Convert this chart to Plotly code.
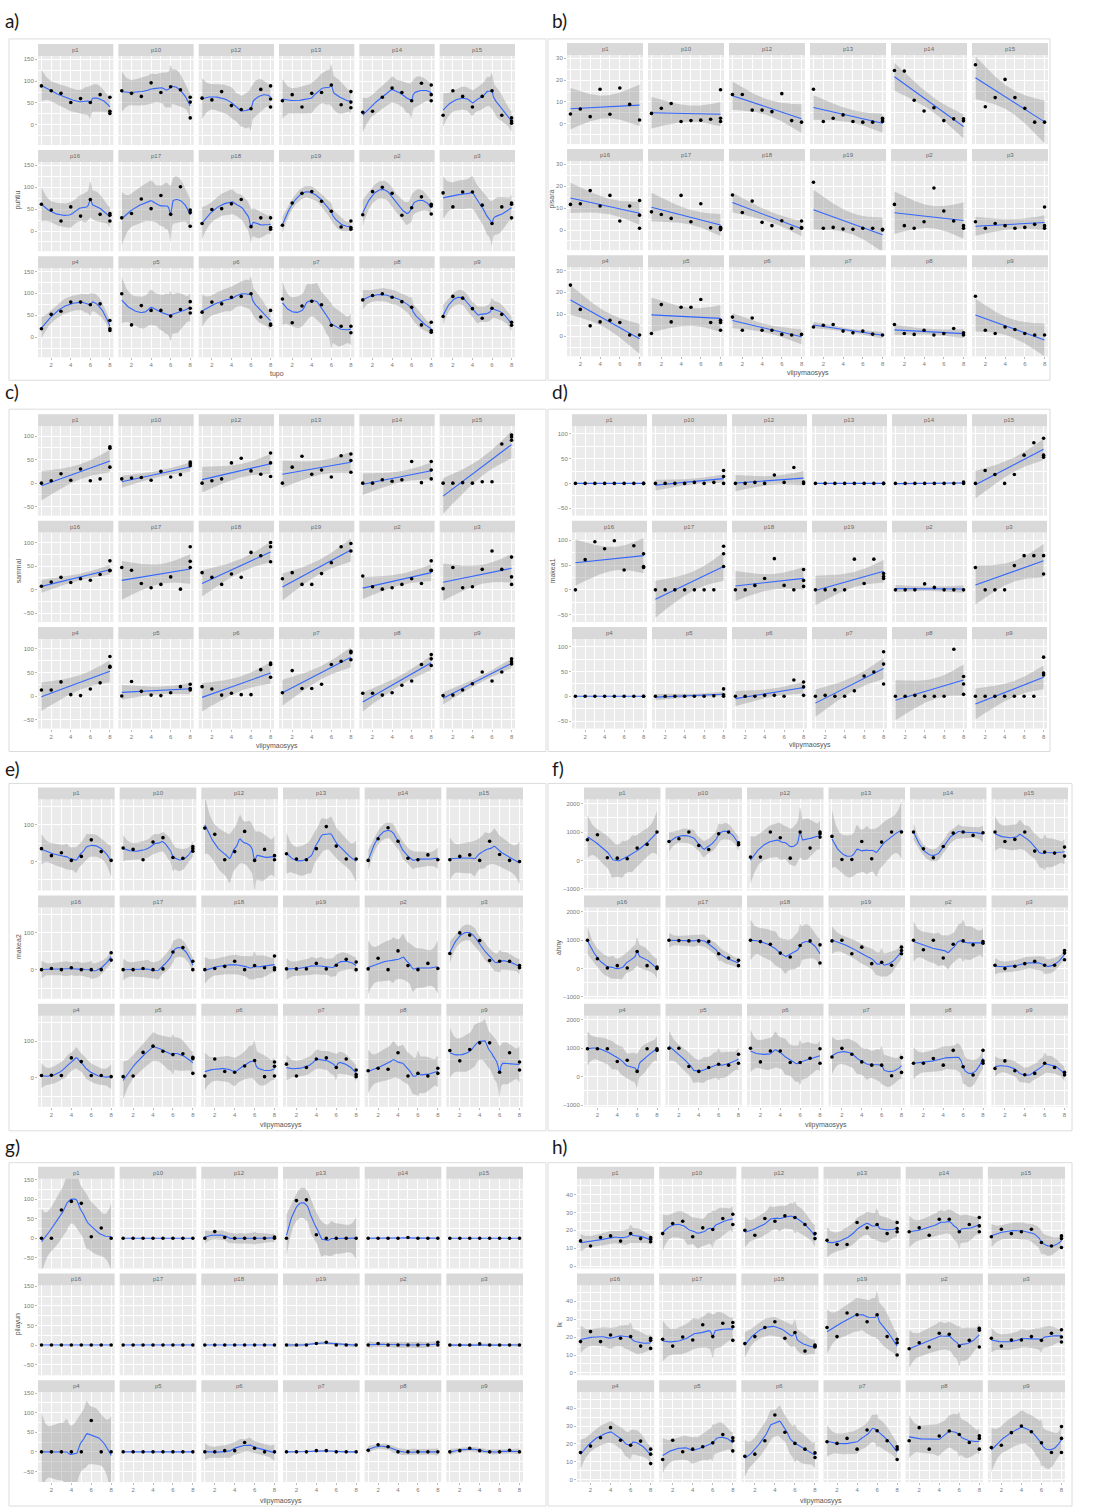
import math
import numpy as np
import plotly.graph_objects as go

W, H = 1096, 1508

facet_names = ["p1", "p10", "p12", "p13", "p14", "p15",
               "p16", "p17", "p18", "p19", "p2", "p3",
               "p4", "p5", "p6", "p7", "p8", "p9"]
days = [1, 2, 3, 4, 5, 6, 7]
last_day = 8
x_ticks = [2, 4, 6, 8]

# ---------------- a) puhtiu ----------------
a_d17 = [
    [89, 78, 72, 51, 60, 51, 69], [78, 72, 65, 96, 74, 87, 80], [61, 57, 76, 44, 35, 37, 81],
    [55, 69, 41, 72, 74, 91, 46], [29, 31, 63, 84, 74, 55, 95], [22, 78, 65, 41, 65, 78, 22],
    [61, 48, 23, 55, 34, 72, 38], [30, 40, 73, 51, 81, 38, 101], [17, 49, 51, 62, 72, 10, 30],
    [13, 64, 86, 90, 68, 45, 9], [37, 90, 100, 86, 36, 53, 78], [87, 55, 89, 89, 59, 17, 55],
    [19, 52, 59, 80, 80, 74, 76], [99, 28, 72, 61, 61, 48, 63], [57, 80, 76, 91, 93, 99, 46],
    [87, 33, 71, 82, 74, 27, 25], [85, 95, 99, 91, 81, 68, 28], [47, 93, 89, 65, 43, 66, 52],
]
a_d8 = [[63, 31, 26], [63, 52, 16], [89, 59, 41], [76, 52, 39], [91, 69, 55], [16, 9, 4],
        [40, 23, 36], [48, 42, 11], [30, 8, 4], [23, 8, 4], [61, 57, 39], [64, 61, 30],
        [38, 19, 15], [81, 66, 55], [61, 30, 27], [25, 10], [34, 15, 11], [34, 27]]

# ---------------- b) pisara ----------------
b_d17 = [
    [4.5, 6.8, 3.3, 15.8, 4.4, 16.4, 8.9], [4.8, 7.1, 9.3, 1.1, 1.5, 1.7, 2.1],
    [13.4, 13.4, 6.3, 6.3, 5.6, 13.8, 1.5], [15.8, 1.1, 2.6, 4.1, 1.1, 0.8, 0.8],
    [24.4, 24.1, 10.8, 5.9, 7.4, 1.5, 2.3], [27, 7.8, 12, 20.3, 12, 7.1, 0.8],
    [11.7, 12, 18, 11, 15.8, 4.1, 11], [8.3, 7.1, 5.3, 15.8, 3.8, 12, 1],
    [16, 8, 13.2, 3.5, 2, 4.2, 0.8], [21.8, 0.8, 1.2, 0.5, 0.3, 0.8, 0.8],
    [11.7, 2, 0.8, 3.8, 19.2, 8.7, 4.1], [3.8, 0.8, 3, 2, 0.8, 1.2, 2.6],
    [23.3, 12.2, 4.7, 6.5, 7.2, 6.2, 0.5], [1.2, 14.4, 6.5, 13.2, 13.2, 16.7, 6.2],
    [8.7, 2.7, 8.3, 2.7, 2.7, 0.8, 0.5], [4.2, 5, 5.3, 2.3, 1.5, 2.3, 0.9],
    [5.3, 1.2, 0.8, 2.7, 0.5, 1.2, 3.5], [18.2, 2.7, 1.2, 4.2, 3, 1.2, 0.5],
]
b_d8 = [[1.8], [15.6, 2.6, 1.1], [0.8], [1.8, 1.1, 2.6], [2.3, 1.4], [0.8],
        [13.5, 6.8, 0.8], [0.8, 1.2, 0.2], [4.1, 0.8, 1.1], [0.3, 0], [2, 0.8], [10.5, 2, 0.8],
        [0.5], [7.2, 2.7, 6.2], [0.8], [0.5], [1.5, 0.5], [0.5]]

# ---------------- c) sammal ----------------
c_d17 = [
    [0, 5, 20, 6, 30, 5, 9], [9, 11, 12, 6, 25, 13, 18], [0, 5, 9, 43, 53, 26, 19],
    [0, 34, 57, 19, 28, 13, 58], [0, 0, 7, 4, 7, 46, 1], [0, 0, 1, 0, 3, 3, 83],
    [7, 16, 26, 15, 23, 20, 32], [47, 41, 13, 4, 11, 27, 1], [36, 26, 11, 33, 26, 79, 72],
    [23, 36, 11, 11, 34, 57, 91], [29, 6, 1, 4, 11, 23, 13], [2, 47, 4, 6, 43, 82, 43],
    [13, 13, 30, 3, 1, 15, 28], [0, 31, 10, 2, 1, 7, 20], [20, 15, 2, 6, 3, 3, 56],
    [7, 54, 16, 16, 25, 67, 74], [6, 6, 2, 7, 23, 32, 67], [1, 2, 13, 26, 51, 32, 51],
]
c_d8 = [[34, 74, 77], [41, 45, 37], [64, 43, 14], [62, 48, 23], [46, 28, 9], [102, 98, 91],
        [61, 41, 40], [91, 60, 47], [100, 91, 59], [98, 82], [61, 41, 40], [69, 27, 11],
        [84, 63, 61], [25, 16, 13], [70, 67, 40], [95, 77, 92], [88, 79, 65], [79, 73, 68]]

# ---------------- d) makea1 ----------------
d_d17 = [
    [0, 0, 0, 0, 0, 0, 0], [0, 0, 0, 0, 2, 0, 2], [0, 0, 2, 0, 17, 2, 32],
    [0, 0, 0, 0, 0, 0, 0], [0, 0, 0, 0, 0, 0, 0], [0, 26, 18, 0, 18, 57, 82],
    [0, 61, 97, 83, 99, 40, 89], [0, 0, 0, 0, 0, 0, 0], [0, 0, 9, 23, 63, 9, 0],
    [0, 0, 0, 0, 62, 13, 62], [0, 0, 0, 12, 5, 0, 0], [45, 0, 0, 0, 49, 69, 69],
    [0, 0, 0, 0, 0, 0, 0], [0, 0, 0, 0, 0, 0, 1], [0, 0, 0, 2, 2, 0, 33],
    [0, 2, 0, 0, 11, 41, 49], [0, 0, 2, 0, 0, 0, 95], [0, 0, 0, 0, 0, 0, 0],
]
d_d8 = [[0, 0], [26, 14, 0], [3, 0], [0, 0], [3, 0], [91, 57, 53],
        [73, 47, 45], [88, 73, 47], [41, 19, 7], [33, 27, 23], [0], [69, 32],
        [0, 0], [15, 3, 0], [29, 19, 2], [90, 65, 25], [40, 25, 4], [79, 47, 43]]

# ---------------- e) makea2 ----------------
e_d17 = [
    [35, 16, 24, 3, 14, 59, 27], [37, 33, 5, 53, 65, 11, 9], [91, 74, 5, 27, 82, 3, 33],
    [21, 7, 5, 35, 95, 42, 7], [3, 62, 92, 55, 9, 5, 18], [5, 14, 18, 3, 55, 19, 3],
    [0, 3, 0, 5, 0, 0, 0], [0, 0, 3, 0, 2, 48, 60], [0, 3, 9, 23, 0, 11, 5],
    [2, 2, 2, 17, 2, 12, 28], [2, 31, 0, 51, 11, 0, 17], [44, 100, 94, 79, 25, 23, 23],
    [6, 7, 6, 54, 44, 6, 6], [3, 5, 69, 86, 72, 63, 65], [5, 51, 17, 15, 32, 47, 3],
    [37, 5, 28, 51, 54, 28, 51], [19, 26, 23, 68, 5, 12, 5], [74, 46, 77, 95, 95, 15, 68],
]
e_d8 = [[3], [41, 35, 28], [16, 5], [7], [5], [0],
        [46, 26], [23, 0], [37, 5, 0], [21, 0], [3], [11, 5],
        [3], [56, 52, 12], [43, 31, 5], [21, 9, 3], [26, 12], [43, 21]]

# ---------------- f) ahny ----------------
f_d17 = [
    [729, 906, 94, 82, 59, 435, 565], [670, 765, 1000, 529, 388, 941, 1000],
    [118, 118, 1000, 800, 82, 1000, 435], [847, 35, 35, 670, 59, 647, 1000],
    [1000, 412, 94, 494, 964, 1000, 882], [1000, 670, 741, 1000, 329, 294, 259],
    [1000, 348, 23, 104, 23, 603, 104], [1000, 986, 974, 974, 951, 522, 371],
    [1000, 951, 858, 545, 406, 812, 974], [974, 1000, 522, 754, 174, 220, 116],
    [1000, 661, 1000, 371, 858, 974, 835], [116, 0, 81, 174, 255, 116, 116],
    [986, 986, 986, 534, 580, 186, 986], [1000, 1000, 360, 186, 325, 441, 406],
    [1000, 522, 905, 905, 499, 499, 650], [696, 998, 789, 522, 406, 406, 35],
    [476, 476, 638, 406, 928, 348, 58], [290, 557, 209, 70, 116, 476, 325],
]
f_d8 = [[1000], [623, 553], [1000, 941, 823], [1000], [976], [470, 153],
        [58, 0], [290, 104], [835, 197], [754, 638, 522], [951, 893], [638, 545, 313],
        [986, 928], [789, 476], [986, 476], [673, 151], [928, 557, 476], [151, 58]]

# ---------------- g) pilayun ----------------
g_d17 = [
    [0, 0, 72, 94, 89, 4, 26], [0, 0, 0, 0, 0, 0, 0], [0, 17, 2, 0, 0, 0, 0],
    [0, 96, 98, 9, 0, 0, 0], [0, 0, 0, 0, 2, 0, 0], [0, 0, 0, 0, 0, 0, 0],
    [0, 0, 0, 0, 0, 0, 0], [0, 0, 0, 0, 0, 0, 0], [0, 0, 0, 0, 0, 0, 0],
    [0, 0, 0, 4, 7, 0, 0], [0, 4, 0, 0, 0, 0, 0], [0, 0, 0, 3, 0, 0, 0],
    [0, 0, 0, 0, 0, 80, 0], [0, 0, 0, 0, 0, 0, 0], [0, 0, 3, 3, 24, 9, 0],
    [0, 0, 0, 3, 3, 0, 0], [4, 18, 13, 0, 0, 0, 0], [0, 3, 9, 3, 0, 0, 4],
]
g_d8 = [[0], [0], [3, 0], [0], [0], [0],
        [0], [0], [0], [0], [7, 0], [0],
        [0], [0], [0], [0], [0], [0]]

# ---------------- h) lk ----------------
h_d17 = [
    [14.1, 11.3, 16, 16.9, 14, 18.2, 15.4], [18.2, 23.8, 25.1, 16.4, 21.4, 20.5, 26.6],
    [20.1, 17.3, 26.6, 25.1, 28.1, 27.2, 23.3], [14.5, 12.1, 12.1, 24.4, 21.4, 23.3, 18.2],
    [19.2, 21.4, 17.3, 26.2, 26.2, 19.2, 23.3], [16.4, 20.6, 18.2, 19.2, 20.6, 13.2, 11.3],
    [17.5, 23.1, 17.5, 21.2, 19.4, 20.3, 15], [18.8, 15, 20.1, 18.4, 26.9, 20.3, 27.8],
    [16.4, 20.3, 25.4, 28.6, 19.4, 22.6, 12.2], [25.4, 20.3, 33.5, 32.5, 28.6, 32.5, 20.3],
    [13.5, 16.9, 14.5, 22.2, 21.6, 15, 18.2], [19.4, 15, 18.4, 18.4, 20.3, 18.2, 22.2],
    [15.2, 18.8, 23.5, 29.1, 22.1, 19.3, 21.6], [11.3, 22.1, 15.6, 17.1, 18.4, 20.6, 25.3],
    [13.1, 14.3, 21.8, 36.2, 26.5, 20.3, 17.1], [21.2, 20.3, 23.1, 17.1, 27.8, 27.4, 21.8],
    [21.8, 29.1, 17.1, 24.4, 27.2, 25.3, 20.8], [18, 19.3, 26.3, 30, 26.8, 20.6, 15.2],
]
h_d8 = [[16, 13.6, 15.1], [29, 23.3], [18.2, 15.4], [24.4, 21, 19.2], [27.2, 22.5, 19.2],
        [16.9, 15.4, 10.4], [19.4, 18.2, 13.7], [28.2, 25.8, 18.2], [15.6, 14.5, 15],
        [18.8, 16.9, 10], [25, 23.9, 14.5], [24.1, 20.1, 17.3], [17.1, 14.3, 9],
        [23.5, 21.8, 16.1], [15, 12.4], [18.4, 17.1, 11.3], [24.6, 23.1, 17.1], [29.7, 23.1, 15.2]]

LOESS_SPAN = 0.75


# ---------------- smoothing (as geom_smooth does) ----------------
def t975(df):
    df = max(float(df), 1.0)
    c = math.exp(math.lgamma((df + 1) / 2) - math.lgamma(df / 2)) / math.sqrt(df * math.pi)
    t = np.linspace(0, 80, 80001)
    pdf = c * (1 + t * t / df) ** (-(df + 1) / 2)
    cdf = np.concatenate([[0.0], np.cumsum((pdf[1:] + pdf[:-1]) / 2 * np.diff(t))])
    return float(np.interp(0.475, cdf, t))


def loess_row(x, x0, span, degree=2):
    n = len(x)
    q = max(int(math.floor(n * span)), degree + 1)
    d = np.abs(x - x0)
    h = np.sort(d)[min(q, n) - 1]
    if len(np.unique(x[d < h])) < degree + 1:
        for hv in np.unique(d):
            if hv > h and len(np.unique(x[d < hv])) >= degree + 1:
                h = hv
                break
    h = max(h, 1e-9) * 1.0001
    u = np.clip(d / h, 0, 1)
    w = (1 - u ** 3) ** 3
    X = np.vander(x - x0, degree + 1, increasing=True)
    WX = X * w[:, None]
    B = np.linalg.pinv(X.T @ WX) @ WX.T
    return B[0]


def loess_band(x, y, xs, span):
    n = len(x)
    L = np.array([loess_row(x, xi, span) for xi in x])
    res = y - L @ y
    IL = np.eye(n) - L
    M = IL.T @ IL
    d1 = np.trace(M)
    d2 = np.trace(M @ M)
    sigma = math.sqrt(max(float(res @ res), 0.0) / d1) if d1 > 0 else 0.0
    dfree = d1 * d1 / d2 if d2 > 0 else 1.0
    Lp = np.array([loess_row(x, xv, span) for xv in xs])
    fit = Lp @ y
    se = sigma * np.sqrt((Lp ** 2).sum(axis=1))
    tq = t975(dfree)
    return fit, fit - tq * se, fit + tq * se


def lm_band(x, y, xs):
    n = len(x)
    xb = x.mean()
    sxx = ((x - xb) ** 2).sum()
    b = ((x - xb) * (y - y.mean())).sum() / sxx
    a = y.mean() - b * xb
    res = y - (a + b * x)
    s = math.sqrt((res @ res) / (n - 2))
    fit = a + b * xs
    se = s * np.sqrt(1 / n + (xs - xb) ** 2 / sxx)
    tq = t975(n - 2)
    return fit, fit - tq * se, fit + tq * se


panels = [
    dict(lab="a)", d17=a_d17, d8=a_d8, method="loess", yr=[-46, 157.5], dt=50, yt="puhtiu", xt="tupo",
         area=(38, 515, 42, 356), box=(9, 37, 546, 379), labpos=(3, 19), ytx=18, xty=373),
    dict(lab="b)", d17=b_d17, d8=b_d8, method="lm", yr=[-9.2, 31.5], dt=10, yt="pisara", xt="viipymaosyys",
         area=(567, 1048, 41, 355), box=(548, 37, 1050, 379), labpos=(550, 19), ytx=552, xty=372),
    dict(lab="c)", d17=c_d17, d8=c_d8, method="lm", yr=[-69, 121], dt=50, yt="sammal", xt="viipymaosyys",
         area=(38, 515, 413, 728), box=(9, 408, 546, 751), labpos=(3, 390), ytx=18, xty=745),
    dict(lab="d)", d17=d_d17, d8=d_d8, method="lm", yr=[-65, 115.5], dt=50, yt="makea1", xt="viipymaosyys",
         area=(572, 1047, 413, 728), box=(548, 408, 1050, 751), labpos=(550, 390), ytx=552, xty=744),
    dict(lab="e)", d17=e_d17, d8=e_d8, method="loess", yr=[-79, 169], dt=100, yt="makea2", xt="viipymaosyys",
         area=(38, 523, 787, 1107), box=(9, 783, 546, 1131), labpos=(3, 768), ytx=18, xty=1125),
    dict(lab="f)", d17=f_d17, d8=f_d8, method="loess", yr=[-1060, 2150], dt=1000, yt="ahny", xt="viipymaosyys",
         area=(584, 1068, 787, 1107), box=(548, 783, 1072, 1131), labpos=(550, 768), ytx=559, xty=1125),
    dict(lab="g)", d17=g_d17, d8=g_d8, method="loess", yr=[-77, 152], dt=50, yt="pilayun", xt="viipymaosyys",
         area=(38, 523, 1167, 1483), box=(9, 1163, 546, 1507), labpos=(3, 1147), ytx=18, xty=1502),
    dict(lab="h)", d17=h_d17, d8=h_d8, method="loess", yr=[-1.3, 48.9], dt=10, yt="lk", xt="viipymaosyys",
         area=(577, 1065, 1167, 1483), box=(548, 1163, 1072, 1507), labpos=(550, 1147), ytx=559, xty=1502),
]

GAP = 5
STRIP = 12
BG = "#EBEBEB"
STRIP_BG = "#D9D9D9"
BAND = "rgba(153,153,153,0.42)"
LINE = "#3366FF"
TICKFONT = dict(family="Liberation Sans, Arial", size=6, color="#7A7A7A")

fig = go.Figure()
layout = {}
shapes = []
annotations = []


def px_x(v):
    return v / W


def px_y(v):
    return 1 - v / H


k = 0
for p in panels:
    bx0, by0, bx1, by1 = p["box"]
    shapes.append(dict(type="rect", xref="paper", yref="paper", x0=px_x(bx0), x1=px_x(bx1),
                       y0=px_y(by1), y1=px_y(by0), line=dict(color="#DCDCDC", width=1),
                       fillcolor="rgba(0,0,0,0)", layer="below"))
    annotations.append(dict(text=p["lab"], x=px_x(p["labpos"][0]), y=px_y(p["labpos"][1]),
                            xref="paper", yref="paper", xanchor="left", yanchor="middle", showarrow=False,
                            font=dict(family="Lato, Open Sans, sans-serif", size=19, color="#1a1a1a")))
    x0, x1, y0, y1 = p["area"]
    cw = (x1 - x0 - 5 * GAP) / 6
    rh = (y1 - y0 - 2 * GAP - 3 * STRIP) / 3
    annotations.append(dict(text=p["yt"], x=px_x(p["ytx"]), y=px_y((y0 + y1) / 2), xref="paper", yref="paper",
                            textangle=-90, showarrow=False, xanchor="center", yanchor="middle",
                            font=dict(family="Liberation Sans, Arial", size=7, color="#555")))
    annotations.append(dict(text=p["xt"], x=px_x((x0 + x1) / 2), y=px_y(p["xty"]), xref="paper", yref="paper",
                            showarrow=False, xanchor="center", yanchor="middle",
                            font=dict(family="Liberation Sans, Arial", size=7, color="#555")))
    for i, name in enumerate(facet_names):
        r, c = divmod(i, 6)
        k += 1
        left = x0 + c * (cw + GAP)
        right = left + cw
        stop = y0 + r * (rh + STRIP + GAP)
        ptop = stop + STRIP
        pbot = ptop + rh
        xref = "x" if k == 1 else f"x{k}"
        yref = "y" if k == 1 else f"y{k}"
        xa = "xaxis" if k == 1 else f"xaxis{k}"
        ya = "yaxis" if k == 1 else f"yaxis{k}"

        xs_pts = list(days) + [last_day] * len(p["d8"][i])
        ys_pts = list(p["d17"][i]) + list(p["d8"][i])
        xv = np.array(xs_pts, float)
        yv = np.array(ys_pts, float)
        grid = np.linspace(1, 8, 80)
        if p["method"] == "lm":
            fit, lo, hi = lm_band(xv, yv, grid)
        else:
            fit, lo, hi = loess_band(xv, yv, grid, LOESS_SPAN)

        fig.add_trace(go.Scatter(x=np.concatenate([grid, grid[::-1]]), y=np.concatenate([hi, lo[::-1]]),
                                 fill="toself", fillcolor=BAND, line=dict(width=0), mode="lines",
                                 hoverinfo="skip", showlegend=False, xaxis=xref, yaxis=yref))
        fig.add_trace(go.Scatter(x=grid, y=fit, mode="lines", line=dict(color=LINE, width=1.1),
                                 showlegend=False, xaxis=xref, yaxis=yref))
        fig.add_trace(go.Scatter(x=xs_pts, y=ys_pts, mode="markers",
                                 marker=dict(color="black", size=3.6), showlegend=False,
                                 xaxis=xref, yaxis=yref, cliponaxis=False))

        layout[xa] = dict(domain=[px_x(left), px_x(right)], range=[0.65, 8.35], anchor=yref,
                          tickmode="array", tickvals=x_ticks, ticktext=[str(t) for t in x_ticks],
                          showgrid=True, gridcolor="white", gridwidth=1,
                          minor=dict(tickmode="array", tickvals=[1, 3, 5, 7], showgrid=True,
                                     gridcolor="white", gridwidth=0.5),
                          zeroline=False, showline=False, showticklabels=(r == 2),
                          ticks="outside" if r == 2 else "", ticklen=2, tickcolor="#BBBBBB",
                          tickfont=TICKFONT, fixedrange=True)
        layout[ya] = dict(domain=[px_y(pbot), px_y(ptop)], range=p["yr"], anchor=xref,
                          tick0=0, dtick=p["dt"], showgrid=True, gridcolor="white", gridwidth=1,
                          minor=dict(tick0=0, dtick=p["dt"] / 2, showgrid=True, gridcolor="white",
                                     gridwidth=0.5),
                          zeroline=False, showline=False, showticklabels=(c == 0),
                          ticks="outside" if c == 0 else "", ticklen=2, tickcolor="#BBBBBB",
                          tickfont=TICKFONT, fixedrange=True)

        shapes.append(dict(type="rect", xref="paper", yref="paper", x0=px_x(left), x1=px_x(right),
                           y0=px_y(ptop), y1=px_y(stop), fillcolor=STRIP_BG, line=dict(width=0),
                           layer="below"))
        annotations.append(dict(text=name, x=px_x((left + right) / 2), y=px_y((stop + ptop) / 2),
                                xref="paper", yref="paper", showarrow=False, xanchor="center",
                                yanchor="middle",
                                font=dict(family="Liberation Sans, Arial", size=6, color="#666")))

fig.update_layout(**layout)
fig.update_layout(width=W, height=H, margin=dict(l=0, r=0, t=0, b=0),
                  paper_bgcolor="white", plot_bgcolor=BG, showlegend=False,
                  shapes=shapes, annotations=annotations, hovermode=False)
fig.write_html("out.html", include_plotlyjs=True, config=dict(displayModeBar=False))
